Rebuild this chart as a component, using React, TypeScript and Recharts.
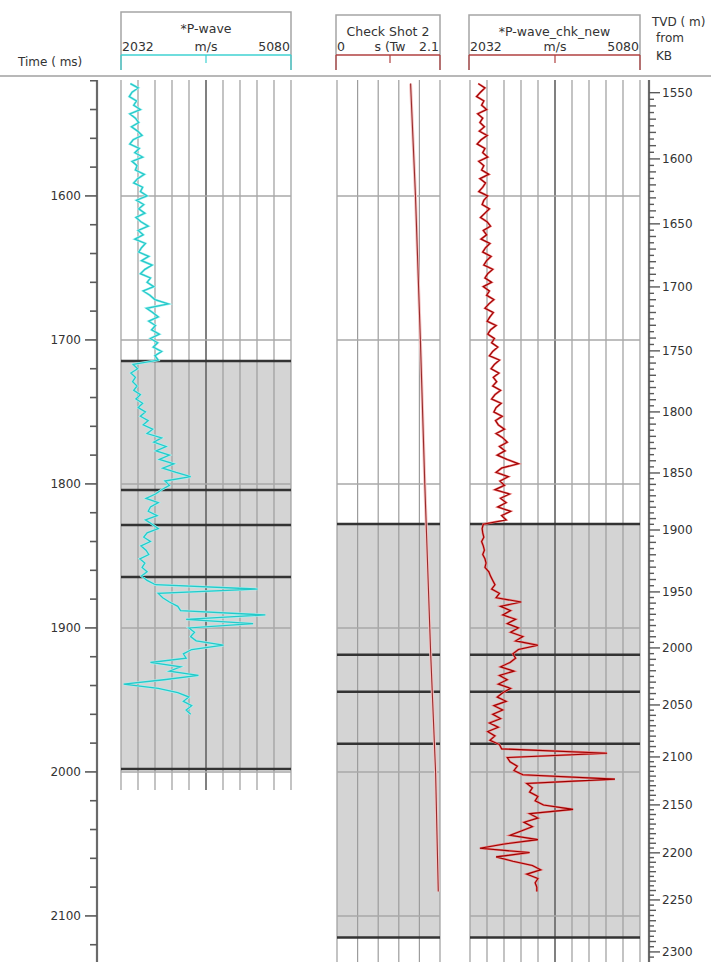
import React from 'react';
import { LineChart, Line, XAxis, YAxis, ReferenceLine, ReferenceArea } from 'recharts';

const FONT = '"DejaVu Sans", Verdana, sans-serif';

// vertical time scale shared by every track
const T_TOP = 1519.5;
const PX_PER_MS = 1.44;
const PLOT_TOP = 80;
const PLOT_H = 882;
const T_BOT = T_TOP + PLOT_H / PX_PER_MS;

// *P-wave (time track), one sample every 3 ms from 1522 ms
const pwaveStart = 1522;
const pwaveStep = 3;
const pwaveValues = [
  2200, 2340, 2230, 2180, 2310, 2260, 2380, 2190, 2290, 2350,
  2220, 2330, 2410, 2250, 2190, 2360, 2280, 2420, 2230, 2320,
  2290, 2450, 2330, 2260, 2420, 2380, 2500, 2310, 2440, 2350,
  2460, 2300, 2390, 2520, 2340, 2430, 2280, 2470, 2400, 2350,
  2530, 2400, 2590, 2460, 2380, 2560, 2500, 2620, 2430, 2550,
  2640, 2880, 2490, 2600, 2700, 2530, 2650, 2580, 2720, 2560,
  2690, 2610, 2760, 2640, 2700,
  2250, 2330, 2210, 2290, 2240,
  2320, 2260, 2380, 2300, 2420, 2340, 2470, 2380, 2520, 2430,
  2600, 2500, 2760, 2620, 2840, 2660, 2900, 2720, 2980, 2780, 3020, 3280,
  2820, 2900, 2760,
  2650, 2480, 2700, 2560, 2520, 2680, 2470, 2590, 2700, 2500,
  2440, 2560, 2390, 2480, 2530, 2370, 2460, 2410, 2500,
  2400, 2500, 2650, 4480, 2700, 2780, 2900, 3050, 3100, 4620,
  3200, 4400, 3250, 3350, 3280, 3380, 3870, 3300, 3150, 3200,
  2560, 3100, 2900, 3420, 2800, 2080, 2700, 3050, 3250, 3150,
  3300, 3200, 3280,
];

// *P-wave_chk_new, one sample every 3 ms from 1522 ms
const chkStart = 1522;
const chkStep = 3;
const chkNewValues = [
  2180, 2300, 2220, 2150, 2280, 2240, 2330, 2170, 2260, 2210,
  2290, 2200, 2340, 2230, 2160, 2300, 2260, 2350, 2190, 2280,
  2240, 2370, 2210, 2310, 2260, 2190, 2350, 2280,
  2250, 2380, 2300, 2220, 2340, 2400, 2270, 2330, 2230, 2390, 2310,
  2260, 2410, 2330, 2280, 2440, 2350, 2300, 2420, 2270, 2380,
  2330, 2460, 2370, 2300, 2450, 2390, 2340, 2500, 2400, 2350, 2470,
  2420, 2530, 2440, 2380, 2560, 2470, 2410, 2550, 2450, 2510,
  2440, 2580, 2480, 2420, 2590, 2500, 2460, 2610, 2490,
  2540, 2650, 2500, 2620, 2700, 2560, 2660, 2520, 2700,
  2900,
  2600, 2500, 2720, 2570, 2650, 2480, 2740, 2580, 2680, 2530, 2760, 2600, 2680,
  2270, 2250, 2260, 2280, 2240, 2270, 2290, 2260, 2300,
  2320, 2300, 2370, 2400, 2440,
  2480, 2420, 2560, 2500, 2950,
  2580, 2760, 2620, 2850, 2700, 2900, 2760, 2980, 2850,
  3250,
  2900, 2800, 2850,
  2750, 2580, 2820, 2560, 2700, 2540, 2760, 2620,
  2520, 2680, 2460, 2620, 2440, 2580,
  2380, 2540, 2350, 2480, 2390, 2560,
  2600, 4490, 2700,
  2750, 2880, 2820, 2980,
  4630,
  3050, 3150, 3100, 3250, 3200,
  3350, 3880, 3100, 3250, 3000, 3150, 2950,
  2750, 3250, 2650, 2210, 3100,
  2500, 2800,
  3150, 3300, 3050, 3250, 3200,
  3230, 3230,
];

// Check Shot 2 (s TWT)
const checkShotTimes = [1522, 1600, 1700, 1800, 1918, 2000, 2083];
const checkShotValues = [1.5, 1.6, 1.7, 1.79, 1.91, 2.01, 2.065];

// grid / tick values
const velGrid = [2032, 2336.8, 2641.6, 2946.4, 3251.2, 3556, 3860.8, 4165.6, 4470.4, 4775.2, 5080];
const twtGrid = [0, 0.42, 0.84, 1.26, 1.68, 2.1];
const timeGrid = [1600, 1700, 1800, 1900, 2000, 2100];
const pwaveTops = [1714.6, 1804.2, 1828.5, 1864.6, 1998];
const chkTops = [1827.8, 1918.6, 1944.3, 1980.4, 2114.9];
const timeTicks = Array.from({ length: 31 }, (_, i) => 1520 + i * 20);
const tvdLabels = [1550, 1600, 1650, 1700, 1750, 1800, 1850, 1900, 1950, 2000, 2050, 2100, 2150, 2200, 2250, 2300];
const tvdTimes = [1528.3, 1574.3, 1619.4, 1663.2, 1707.6, 1750, 1792.4, 1832, 1875, 1913.9, 1953.5, 1989.6, 2022.9, 2056.2, 2088.9, 2125];

const pwaveData = pwaveValues.map((v, i) => ({ t: pwaveStart + i * pwaveStep, v }));
const chkNewData = chkNewValues.map((v, i) => ({ t: chkStart + i * chkStep, v }));
const checkShotData = checkShotTimes.map((t, i) => ({ t, v: checkShotValues[i] }));

// TVD ticks: label every 50 m, small ticks every 5 m
const tvdTicks: { t: number; kind: number; label?: number }[] = [];
for (let i = 0; i < tvdTimes.length - 1; i++) {
  for (let j = 0; j < 10; j++) {
    tvdTicks.push({
      t: tvdTimes[i] + ((tvdTimes[i + 1] - tvdTimes[i]) * j) / 10,
      kind: j === 0 ? 2 : j % 2 === 0 ? 1 : 0,
      label: j === 0 ? tvdLabels[i] : undefined,
    });
  }
}
tvdTicks.push({ t: tvdTimes[tvdTimes.length - 1], kind: 2, label: tvdLabels[tvdLabels.length - 1] });
tvdTicks.push({ t: 2128.6, kind: 0 });

const TimeTick = (props: any) => {
  const { x, y, payload } = props;
  const major = payload.value % 100 === 0;
  return (
    <g>
      <line x1={x - (major ? 12 : 7)} x2={x} y1={y} y2={y} stroke="#5a5a5a" strokeWidth={1.6} />
      {major && (
        <text x={x - 16} y={y} dy="0.36em" textAnchor="end" fontSize={12} fill="#333" fontFamily={FONT}>
          {payload.value}
        </text>
      )}
    </g>
  );
};

const TvdTick = (props: any) => {
  const { x, y, payload } = props;
  const tk = tvdTicks.find((d) => Math.abs(d.t - payload.value) < 1e-6);
  if (!tk) return <g />;
  const len = tk.kind === 2 ? 11 : tk.kind === 1 ? 7 : 5;
  return (
    <g>
      <line x1={x} x2={x + len} y1={y} y2={y} stroke="#5a5a5a" strokeWidth={1.4} />
      {tk.label !== undefined && (
        <text x={x + 13} y={y} dy="0.36em" textAnchor="start" fontSize={12} fill="#333" fontFamily={FONT}>
          {tk.label}
        </text>
      )}
    </g>
  );
};

const Track = (props: any) => {
  const { left, width, data, domain, grid, mid, gridEnd, shade, tops, hLines, children } = props;
  return (
    <div style={{ position: 'absolute', left: left - 2, top: PLOT_TOP }}>
      <LineChart width={width + 4} height={PLOT_H} layout="vertical" data={data}
                 margin={{ top: 0, right: 2, bottom: 0, left: 2 }}>
        <XAxis type="number" domain={domain} allowDataOverflow hide />
        <YAxis type="number" dataKey="t" domain={[T_TOP, T_BOT]} allowDataOverflow hide />
        <ReferenceArea y1={shade[0]} y2={shade[1]} fill="#d4d4d4" fillOpacity={1} stroke="none" />
        {grid.map((g: number) => (
          <ReferenceLine key={'v' + g} segment={[{ x: g, y: T_TOP }, { x: g, y: gridEnd }]}
                         stroke={g === mid ? '#6a6a6a' : '#9c9c9c'} strokeWidth={g === mid ? 1.7 : 1.2} />
        ))}
        {hLines.map((h: number) => (
          <ReferenceLine key={'h' + h} y={h} stroke="#a8a8a8" strokeWidth={1.5} />
        ))}
        {tops.map((h: number) => (
          <ReferenceLine key={'k' + h} y={h} stroke="#333" strokeWidth={2.5} />
        ))}
        {children}
      </LineChart>
    </div>
  );
};

const TrackHeader = (props: any) => {
  const { x1, x2, top, title, lo, unit, unitX, hi, color } = props;
  const mx = unitX;
  return (
    <g>
      <path d={`M${x1} 70 V${top} H${x2} V70`} stroke="#a5a5a5" strokeWidth={1.5} fill="none" />
      <line x1={x1} x2={x2} y1={55} y2={55} stroke={color} strokeWidth={1.5} />
      <line x1={x1} x2={x1} y1={55} y2={70} stroke={color} strokeWidth={1.2} />
      <line x1={x2} x2={x2} y1={55} y2={70} stroke={color} strokeWidth={1.2} />
      <line x1={mx} x2={mx} y1={55} y2={63} stroke={color} strokeWidth={1.2} />
      <text x={(x1 + x2) / 2} y={top + 21} textAnchor="middle" fontSize={12.5} fill="#333">{title}</text>
      <text x={x1 + 1} y={51} textAnchor="start" fontSize={12.5} fill="#333">{lo}</text>
      <text x={mx} y={51} textAnchor="middle" fontSize={12.5} fill="#333">{unit}</text>
      <text x={x2 - 1} y={51} textAnchor="end" fontSize={12.5} fill="#333">{hi}</text>
    </g>
  );
};

export default function App() {
  return (
    <div style={{ position: 'absolute', left: 0, top: 0, width: 711, height: 962, background: '#fff', overflow: 'hidden', fontFamily: FONT }}>
      <svg width={711} height={80} style={{ position: 'absolute', left: 0, top: 0 }} fontFamily={FONT}>
        <line x1={0} x2={711} y1={76} y2={76} stroke="#b8b8b8" strokeWidth={2} />
        <text x={18} y={66} fontSize={12} fill="#333">Time ( ms)</text>
        <TrackHeader x1={121} x2={291} top={12} title="*P-wave" lo="2032" unit="m/s" unitX={206} hi="5080" color="#3fd2d2" />
        <TrackHeader x1={336} x2={440} top={15} title="Check Shot 2" lo="0" unit="s (Tw" unitX={390} hi="2.1" color="#b04040" />
        <TrackHeader x1={469} x2={640} top={15} title="*P-wave_chk_new" lo="2032" unit="m/s" unitX={555} hi="5080" color="#b04040" />
        <text x={652} y={26} fontSize={12} fill="#333">TVD ( m)</text>
        <text x={656} y={42} fontSize={12} fill="#333">from</text>
        <text x={656} y={60} fontSize={12} fill="#333">KB</text>
      </svg>

      {/* left time axis */}
      <div style={{ position: 'absolute', left: 0, top: PLOT_TOP }}>
        <LineChart width={99} height={PLOT_H} layout="vertical" data={checkShotData}
                   margin={{ top: 0, right: 0, bottom: 0, left: 0 }}>
          <XAxis type="number" domain={[0, 2.1]} hide />
          <YAxis type="number" dataKey="t" domain={[T_TOP, T_BOT]} allowDataOverflow
                 width={97} orientation="left" ticks={timeTicks} interval={0} tickSize={0} tickMargin={0}
                 tick={(p: any) => <TimeTick {...p} />} tickLine={false}
                 axisLine={{ stroke: '#6a6a6a', strokeWidth: 2.2 }} />
          <Line dataKey="v" stroke="none" dot={false} isAnimationActive={false} />
        </LineChart>
      </div>

      <Track left={121} width={170} data={pwaveData} domain={[2032, 5080]} grid={velGrid} mid={3556}
             gridEnd={2012.6} shade={[1714.6, 1998]} tops={pwaveTops} hLines={[1600, 1700, 1800, 1900, 2000]}>
        <Line dataKey="v" type="linear" stroke="#a8f2f2" strokeWidth={2.4} dot={false} isAnimationActive={false} />
        <Line dataKey="v" type="linear" stroke="#25c9c9" strokeWidth={1.3} dot={false} isAnimationActive={false} />
      </Track>

      <Track left={337} width={103} data={checkShotData} domain={[0, 2.1]} grid={twtGrid} mid={-1}
             gridEnd={T_BOT} shade={[1827.8, 2114.9]} tops={chkTops} hLines={timeGrid}>
        <Line dataKey="v" type="linear" stroke="#f4c4c4" strokeWidth={3} dot={false} isAnimationActive={false} />
        <Line dataKey="v" type="linear" stroke="#9a2a2a" strokeWidth={1.1} dot={false} isAnimationActive={false} />
      </Track>

      <Track left={470} width={170} data={chkNewData} domain={[2032, 5080]} grid={velGrid} mid={3556}
             gridEnd={T_BOT} shade={[1827.8, 2114.9]} tops={chkTops} hLines={timeGrid}>
        <Line dataKey="v" type="linear" stroke="#f07a7a" strokeWidth={2.2} dot={false} isAnimationActive={false} />
        <Line dataKey="v" type="linear" stroke="#9c0000" strokeWidth={1.1} dot={false} isAnimationActive={false} />
      </Track>

      {/* right TVD axis */}
      <div style={{ position: 'absolute', left: 600, top: PLOT_TOP }}>
        <LineChart width={111} height={PLOT_H} layout="vertical" data={checkShotData}
                   margin={{ top: 0, right: 0, bottom: 0, left: 0 }}>
          <XAxis type="number" domain={[0, 2.1]} hide />
          <YAxis type="number" dataKey="t" domain={[T_TOP, T_BOT]} allowDataOverflow
                 width={62} orientation="right" ticks={tvdTicks.map((d) => d.t)} interval={0}
                 tickSize={0} tickMargin={0} tick={(p: any) => <TvdTick {...p} />} tickLine={false}
                 axisLine={{ stroke: '#6a6a6a', strokeWidth: 2.2 }} />
          <Line dataKey="v" stroke="none" dot={false} isAnimationActive={false} />
        </LineChart>
      </div>
    </div>
  );
}
